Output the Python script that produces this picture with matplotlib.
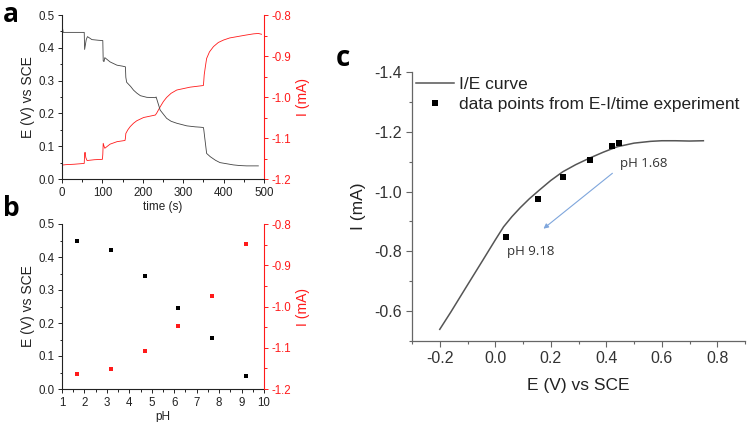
import matplotlib
matplotlib.use("Agg")
import matplotlib.pyplot as plt
from matplotlib.ticker import MultipleLocator, FormatStrFormatter
from matplotlib.lines import Line2D
import numpy as np

plt.rcParams['font.family'] = ['Liberation Sans', 'DejaVu Sans']

# ---------------- data ----------------
# panel a: potential vs time
t_E = [0, 1, 3, 10, 30, 55, 56, 58, 60, 63, 68, 74, 90, 101, 102, 104, 106, 119, 136, 150, 157,
       158, 160, 170, 177, 185, 194, 210, 231, 233, 236, 243, 259, 270, 284, 309, 330, 342, 350,
       351, 353, 358, 367, 380, 391, 410, 424, 440, 457, 486]
E_t = [0.44, 0.462, 0.447, 0.447, 0.447, 0.447, 0.395, 0.41, 0.425, 0.434, 0.430, 0.425, 0.423,
       0.422, 0.36, 0.358, 0.370, 0.357, 0.347, 0.344, 0.342,
       0.31, 0.295, 0.282, 0.271, 0.262, 0.254, 0.249, 0.248, 0.250, 0.238, 0.210, 0.185, 0.176,
       0.170, 0.162, 0.159, 0.158, 0.157,
       0.150, 0.129, 0.078, 0.068, 0.057, 0.050, 0.046, 0.043, 0.041, 0.040, 0.040]
# panel a: current vs time
t_I = [0, 10, 30, 55, 56, 57, 59, 62, 80, 100, 101, 102, 104, 106, 119, 136, 156, 157, 158,
       163, 169, 177, 185, 202, 231, 234, 243, 251, 259, 270, 284, 317, 350, 351, 352,
       355, 358, 365, 375, 387, 400, 415, 432, 455, 474, 486, 494]
I_t = [-1.166, -1.165, -1.164, -1.162, -1.140, -1.135, -1.148, -1.155, -1.153, -1.152, -1.14,
       -1.113, -1.120, -1.125, -1.115, -1.109, -1.106, -1.100, -1.089,
       -1.080, -1.072, -1.064, -1.058, -1.050, -1.044, -1.040, -1.024, -1.011, -1.001, -0.991,
       -0.983, -0.976, -0.972, -0.960, -0.946,
       -0.925, -0.906, -0.890, -0.877, -0.867, -0.861, -0.856, -0.853, -0.849, -0.846, -0.845, -0.847]

# panel b: pH steps
pH = [1.68, 3.18, 4.68, 6.18, 7.68, 9.18]
E_pH = [0.447, 0.422, 0.341, 0.244, 0.155, 0.038]
I_pH = [-1.163, -1.151, -1.107, -1.048, -0.975, -0.848]

# panel c: I/E curve
E_curve = [-0.2, -0.16, -0.105, -0.045, 0.0, 0.03, 0.06, 0.09, 0.123, 0.159, 0.2, 0.243, 0.29,
           0.34, 0.39, 0.44, 0.5, 0.56, 0.6, 0.65, 0.7, 0.75]
I_curve = [-0.539, -0.597, -0.680, -0.770, -0.838, -0.882, -0.916, -0.946, -0.976, -1.005,
           -1.037, -1.066, -1.090, -1.112, -1.132, -1.150, -1.162, -1.168, -1.170, -1.170,
           -1.169, -1.170]

W, H = 748, 422
fig = plt.figure(figsize=(W / 100, H / 100), dpi=100)


def rect(l, t, r, b):
    return [l / W, 1 - b / H, (r - l) / W, (b - t) / H]


RED = '#ff1a1a'
small = 8.3


def style_twin(ax, ax2, xlabel, xlim, xmaj, xmin):
    ax.set_ylim(0, 0.5)
    ax.yaxis.set_major_locator(MultipleLocator(0.1))
    ax.yaxis.set_minor_locator(MultipleLocator(0.05))
    ax.yaxis.set_major_formatter(FormatStrFormatter('%.1f'))
    ax.set_xlim(*xlim)
    ax.xaxis.set_major_locator(MultipleLocator(xmaj))
    ax.xaxis.set_minor_locator(MultipleLocator(xmin))
    ax.spines['top'].set_visible(False)
    ax.spines['right'].set_visible(False)
    for s in ['left', 'bottom']:
        ax.spines[s].set_color('#222222')
        ax.spines[s].set_linewidth(0.8)
    ax.tick_params(which='both', direction='out', labelsize=small, colors='#222222',
                   width=0.7, pad=2.5)
    ax.tick_params(which='major', length=3)
    ax.tick_params(which='minor', length=1.8)
    ax.set_ylabel('E (V) vs SCE', fontsize=10, color='#222222', labelpad=2)
    ax.set_xlabel(xlabel, fontsize=8.5, color='#222222', labelpad=1.5)

    ax2.set_ylim(-1.2, -0.8)
    ax2.yaxis.set_major_locator(MultipleLocator(0.1))
    ax2.yaxis.set_minor_locator(MultipleLocator(0.05))
    ax2.yaxis.set_major_formatter(FormatStrFormatter('%.1f'))
    for s in ['top', 'left', 'bottom']:
        ax2.spines[s].set_visible(False)
    ax2.spines['right'].set_color(RED)
    ax2.spines['right'].set_linewidth(0.8)
    ax2.tick_params(axis='y', which='both', direction='out', labelsize=small, colors=RED,
                    width=0.7, pad=2.5)
    ax2.tick_params(which='major', length=3)
    ax2.tick_params(which='minor', length=1.8)
    ax2.set_ylabel('I (mA)', fontsize=10, color=RED, labelpad=3)


# ---------- panel a ----------
axa = fig.add_axes(rect(62, 15, 264, 179))
axa2 = axa.twinx()
axa.plot(t_E, E_t, color='#444444', lw=0.6)
axa2.plot(t_I, I_t, color=RED, lw=0.6)
style_twin(axa, axa2, 'time (s)', (0, 500), 100, 50)
axa.set_zorder(axa2.get_zorder() + 1)
axa.patch.set_visible(False)

# ---------- panel b ----------
axb = fig.add_axes(rect(62, 224, 264, 389))
axb2 = axb.twinx()
axb.plot(pH, E_pH, 's', color='black', ms=3, mew=0)
axb2.plot(pH, I_pH, 's', color=RED, ms=3, mew=0)
style_twin(axb, axb2, 'pH', (1, 10), 1, 0.5)

# ---------- panel c ----------
axc = fig.add_axes(rect(412, 72, 745, 341))
axc.plot(E_curve, I_curve, color='#555555', lw=1.1, label='I/E curve')
axc.plot(E_pH, I_pH, 's', color='black', ms=5, mew=0,
         label='data points from E-I/time experiment')
axc.set_xlim(-0.3, 0.9)
axc.set_ylim(-0.5, -1.4)
axc.xaxis.set_minor_locator(MultipleLocator(0.1))
axc.yaxis.set_minor_locator(MultipleLocator(0.1))
axc.set_xticks([-0.2, 0.0, 0.2, 0.4, 0.6, 0.8])
axc.set_yticks([-1.4, -1.2, -1.0, -0.8, -0.6])
axc.xaxis.set_major_formatter(FormatStrFormatter('%.1f'))
axc.yaxis.set_major_formatter(FormatStrFormatter('%.1f'))
axc.spines['top'].set_visible(False)
axc.spines['right'].set_visible(False)
for s in ['left', 'bottom']:
    axc.spines[s].set_color('#666666')
    axc.spines[s].set_linewidth(0.9)
axc.tick_params(which='both', direction='out', labelsize=11.5, colors='#666666', width=0.8,
                labelcolor='#333333')
axc.tick_params(which='major', length=4)
axc.tick_params(which='minor', length=2.5)
axc.set_xlabel('E (V) vs SCE', fontsize=12.5, color='#222222', labelpad=8)
axc.set_ylabel('I (mA)', fontsize=12.5, color='#222222', labelpad=6)

handles = [Line2D([], [], color='#555555', lw=1.1),
           Line2D([], [], ls='none', marker='s', color='black', ms=5, mew=0)]
leg = axc.legend(handles, ['I/E curve', 'data points from E-I/time experiment'],
                 loc='upper left', bbox_to_anchor=(0.012, 0.982), frameon=False,
                 fontsize=12.5, handlelength=2.2, handletextpad=0.3, labelspacing=0.3,
                 borderaxespad=0, borderpad=0)
for txt in leg.get_texts():
    txt.set_color('#222222')

axc.annotate('', xy=(0.166, -0.87), xytext=(0.43, -1.067),
             arrowprops=dict(arrowstyle='-|>', color='#7fa6dc', lw=0.8,
                             mutation_scale=7))
axc.text(0.448, -1.095, 'pH 1.68', fontsize=9.5, family=['Open Sans', 'DejaVu Sans'],
         color='#333333', va='center', ha='left')
axc.text(0.044, -0.80, 'pH 9.18', fontsize=9.5, family=['Open Sans', 'DejaVu Sans'],
         color='#333333', va='center', ha='left')

# panel letters
fig.text(3 / W, 1 - 14 / H, 'a', fontsize=19, fontweight='bold',
         family=['Open Sans', 'DejaVu Sans'], va='center', ha='left')
fig.text(3 / W, 1 - 208 / H, 'b', fontsize=19, fontweight='bold',
         family=['Open Sans', 'DejaVu Sans'], va='center', ha='left')
fig.text(336 / W, 1 - 58 / H, 'c', fontsize=20, fontweight='bold',
         family=['Open Sans', 'DejaVu Sans'], va='center', ha='left')

fig.savefig('out.png', dpi=100)
